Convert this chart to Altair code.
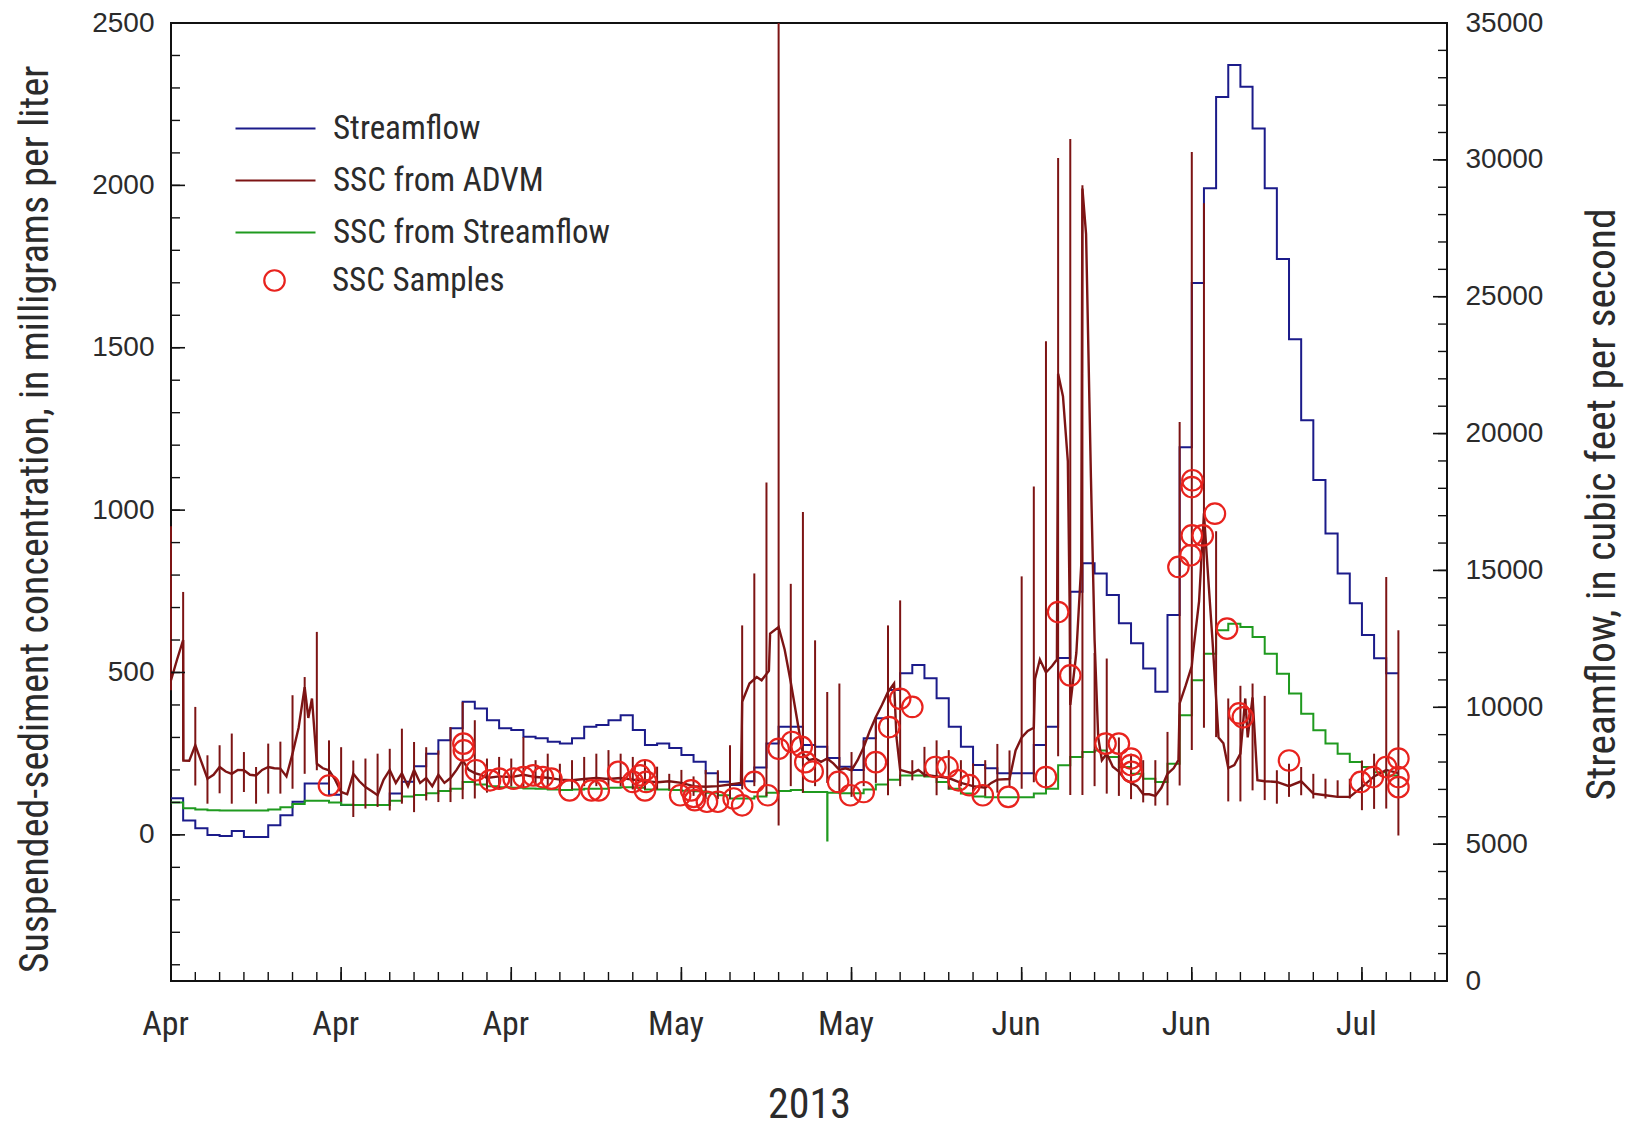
import altair as alt
import pandas as pd

START = pd.Timestamp("2013-04-01")

# Daily mean streamflow, cubic feet per second, starting 1 April 2013
flow_cfs = [
    6680, 5860, 5580, 5330, 5300, 5480, 5260, 5260, 5690, 6060,
    6550, 7220, 7220, 6800, 6430, 6430, 6430, 6430, 6850, 7280,
    7850, 8300, 8800, 9230, 10200, 9960, 9530, 9230, 9170, 8925,
    8865, 8740, 8680, 8865, 9290, 9350, 9530, 9710, 9170, 8620,
    8680, 8510, 8255, 8010, 7590, 7280, 7160, 7300, 7800, 8680,
    9290, 9290, 8620, 8560, 8150, 7830, 7710, 8865, 9600, 10630,
    11240, 11545, 11060, 10330, 9290, 8560, 7890, 7770, 7590, 7590,
    7590, 8620, 9290, 11800, 14220, 15260, 14890, 14100, 13070, 12340,
    11420, 10570, 13370, 19500, 25500, 28960, 32300, 33470, 32670, 31150,
    28960, 26380, 23450, 20490, 18300, 16350, 14890, 13800, 12640, 11790,
    11240,
]

# Daily SSC computed from streamflow, mg/L
ssc_from_flow = [
    100, 82, 78, 76, 75, 75, 75, 75, 78, 85,
    95, 105, 105, 100, 93, 92, 92, 92, 105, 118,
    123, 128, 135, 142, 163, 155, 150, 147, 145, 143,
    142, 140, 138, 140, 142, 142, 145, 147, 145, 140,
    140, 138, 136, 134, 130, 122, 112, 112, 118, 130,
    135, 138, 132, 132, 130, 128, 128, 140, 155, 170,
    183, 183, 180, 163, 142, 127, 118, 116, 116, 116,
    116, 127, 142, 214, 240, 255, 260, 240, 209, 188,
    173, 163, 219, 368, 476, 558, 630, 650, 640, 609,
    558, 496, 435, 373, 322, 281, 250, 224, 209, 193,
    183,
]
# single low reading in the streamflow-based record
flow_glitch_day = 54.0
flow_glitch_ssc = -17

# SSC from ADVM backscatter (day offset from 1 April, mg/L)
advm_day = [
    0, 0.5, 1.0, 1.02, 1.5, 2, 2.5, 3, 3.5, 4, 4.5, 5, 5.5, 6, 6.5, 7, 7.5, 8, 8.5, 9,
    9.5, 10, 10.5, 11, 11.3, 11.6, 12, 12.5, 13, 13.5, 14, 14.5, 15, 15.5, 16, 16.5, 17,
    17.5, 18, 18.5, 19, 19.5, 20, 20.5, 21, 21.5, 22, 22.5, 23, 23.5, 24, 24.5, 25, 25.5,
    26, 27, 28, 29, 30, 31, 32, 33, 34, 35, 36, 37, 38, 39, 40, 41, 42, 43, 44, 45, 46,
    46.9, 47, 47.6, 48.2, 48.6, 49.2, 49.3, 50, 50.5, 51, 51.5, 52, 52.5, 53, 53.5, 54,
    54.5, 55, 55.5, 56, 56.5, 57, 57.5, 58, 58.5, 59, 59.5, 59.7, 60, 60.5, 61, 61.5, 62,
    63, 64, 65, 66, 67, 67.5, 68, 69, 69.5, 70, 70.5, 71, 71.1, 71.5, 72, 72.5, 72.9, 73,
    73.4, 73.8, 73.95, 74, 74.5, 74.9, 75, 75.3, 75.7, 76, 76.3, 76.6, 77, 77.5, 78, 78.5,
    79, 79.5, 80, 80.5, 81, 81.5, 82, 82.5, 82.9, 83, 83.5, 84, 84.1, 84.6, 85, 85.3, 85.7,
    86, 86.2, 86.6, 87, 87.5, 88, 88.4, 88.6, 89, 89.4, 90, 91, 92, 93, 94, 95, 96, 97,
    98, 99, 100, 101,
]
advm_ssc = [
    476, 540, 600, 229, 228, 276, 225, 173, 185, 209, 195, 188, 200, 199, 185, 183, 200, 209, 205, 204,
    180, 250, 330, 455, 360, 420, 219, 205, 199, 170, 132, 125, 188, 165, 147, 135, 122,
    170, 200, 160, 190, 150, 200, 160, 175, 150, 185, 160, 175, 200, 230, 200, 190, 185,
    175, 180, 178, 185, 178, 176, 170, 168, 172, 175, 172, 175, 170, 165, 162, 165, 160, 150, 148, 150, 155,
    160, 410, 466, 486, 476, 505, 620, 640, 570, 470, 360, 250, 230, 235, 225, 235,
    220, 200, 205, 199, 230, 270, 320, 363, 400, 440, 466, 300, 200, 195, 190, 200, 185,
    180, 175, 160, 150, 145, 160, 170, 172, 260, 300, 320, 330, 480, 540, 500, 520, 540, 1420,
    1350, 1150, 700, 400, 560, 830, 1990, 1850, 1100, 600, 300, 230, 250, 210, 195, 170,
    160, 150, 125, 125, 120, 145, 188, 205, 230, 405, 460, 520, 560, 720, 990, 820, 600,
    420, 300, 282, 206, 215, 250, 420, 300, 423, 168, 165, 163, 150, 165, 127, 122, 117, 117,
    147, 180, 200, 190,
]

# Daily range of ADVM SSC (mg/L), one bar per day from 1 April
advm_low = [
    445, 229, 152, 96, 128, 96, 132, 96, 127, 127,
    142, 188, 199, 138, 102, 55, 81, 86, 75, 96,
    70, 106, 101, 101, 110, 112, 130, 140, 150, 145,
    150, 150, 130, 140, 150, 150, 150, 150, 140, 140,
    140, 140, 130, 120, 110, 110, 110, 140, 150, 120,
    29, 150, 130, 150, 160, 130, 117, 150, 160, 122,
    150, 168, 178, 122, 140, 150, 130, 120, 130, 150,
    142, 162, 142, 242, 123, 123, 150, 127, 120, 110,
    100, 90, 91, 152, 261, 330, 301, 103, 103, 137,
    107, 96, 117, 122, 112, 112, 115, 112, 76, 80,
    81, -2,
]
advm_high = [
    950, 748, 394, 245, 276, 312, 255, 209, 281, 287,
    430, 486, 625, 291, 270, 229, 235, 250, 265, 327,
    286, 270, 260, 332, 409, 353, 235, 240, 235, 301,
    230, 250, 219, 230, 240, 250, 261, 250, 240, 230,
    210, 188, 200, 180, 200, 199, 276, 645, 805, 1085,
    2500, 773, 994, 599, 440, 466, 255, 291, 363, 645,
    722, 230, 271, 291, 261, 230, 220, 230, 280, 260,
    796, 1073, 1520, 2084, 2143, 2000, 560, 543, 300, 250,
    230, 230, 317, 1271, 2103, 1945, 935, 420, 459, 466,
    428, 199, 219, 209, 188, 173, 168, 173, 229, 250,
    794, 630,
]

# Measured SSC samples (day offset from 1 April, mg/L)
sample_day = [
    13.0, 24.06, 24.1, 25.1, 26.25, 27.0, 28.2, 29.0, 29.8, 30.6,
    31.3, 32.8, 34.6, 35.2, 36.8, 38.0, 38.6, 39.0, 39.1, 39.0,
    41.9, 42.8, 43.0, 43.1, 44.1, 45.0, 46.3, 47.0, 48.0, 49.1,
    50.0, 51.1, 51.9, 52.2, 52.8, 54.9, 55.9, 57.0, 58.0, 59.1,
    60.0, 61.0, 62.9, 63.9, 64.8, 65.7, 66.8, 68.9, 72.0, 73.0,
    74.0, 76.9, 78.0, 79.0, 79.0, 79.05, 82.9, 83.9, 84.0, 84.0,
    84.05, 84.9, 85.9, 86.9, 87.9, 88.2, 92.0, 97.9, 98.9, 100.0,
    101.0, 101.0, 101.0,
]
sample_ssc = [
    152, 281, 260, 199, 168, 173, 173, 178, 183, 178,
    173, 137, 137, 137, 194, 163, 183, 199, 163, 137,
    122, 137, 117, 107, 102, 102, 112, 91, 163, 122,
    265, 286, 271, 224, 195, 163, 122, 132, 224, 332,
    419, 394, 209, 209, 168, 153, 122, 117, 178, 686,
    491, 281, 281, 235, 215, 194, 825, 861, 922, 1071,
    1092, 922, 989, 635, 374, 362, 229, 163, 178, 209,
    235, 178, 147,
]

# Axis tick positions
x_label_days = [0, 14, 28, 42, 56, 70, 84, 98]
x_minor_days = list(range(0, 105, 2))
ssc_major = [0, 500, 1000, 1500, 2000]
ssc_minor = list(range(-400, 2500, 100))
cfs_major = [0, 5000, 10000, 15000, 20000, 25000, 30000]
cfs_minor = list(range(1000, 35000, 1000))

NAVY = "#1b1b8a"
MAROON = "#7d1414"
GREEN = "#1f9a1f"
RED = "#e8231e"
INK = "#2b2b2b"
NARROW = "Roboto Condensed, Liberation Sans Narrow, DejaVu Sans Condensed, Arial Narrow, Roboto, sans-serif"
REGULAR = "Liberation Sans, Arial, sans-serif"

W, H = 1276, 958


def stamp(day):
    return (START + pd.to_timedelta(day, unit="D")).strftime("%Y-%m-%dT%H:%M:%S")


def dt(day):
    t = START + pd.to_timedelta(day, unit="D")
    return alt.DateTime(year=t.year, month=t.month, date=t.day)


def step_frame(values, series, extra=None):
    days = list(range(len(values))) + [len(values)]
    vals = list(values) + [values[-1]]
    rows = [{"date": stamp(d), "v": v, "series": series} for d, v in zip(days, vals)]
    if extra is not None:
        d0, v0 = extra
        back = values[int(d0)]
        rows += [{"date": stamp(d0), "v": v0, "series": series},
                 {"date": stamp(d0 + 0.02), "v": back, "series": series}]
        rows.sort(key=lambda r: r["date"])
    return pd.DataFrame(rows)


flow_df = step_frame(flow_cfs, "Streamflow")
green_df = step_frame(ssc_from_flow, "SSC from Streamflow", (flow_glitch_day, flow_glitch_ssc))
advm_df = pd.DataFrame({"date": [stamp(d) for d in advm_day], "v": advm_ssc,
                        "series": "SSC from ADVM"})
bars_df = pd.DataFrame({"date": [stamp(d) for d in range(len(advm_low))],
                        "lo": advm_low, "hi": advm_high, "series": "SSC from ADVM"})
samples_df = pd.DataFrame({"date": [stamp(d) for d in sample_day], "v": sample_ssc,
                           "kind": "SSC Samples"})

xs = alt.Scale(domain=[dt(0), dt(105)])
yl = alt.Scale(domain=[-450, 2500], nice=False, zero=False)
yr = alt.Scale(domain=[0, 35000], nice=False, zero=False)
cs = alt.Scale(domain=["Streamflow", "SSC from ADVM", "SSC from Streamflow"],
               range=[NAVY, MAROON, GREEN])

line_legend = alt.Legend(
    title=None, orient="none", legendX=88, legendY=89, padding=0,
    symbolType="M-8,0H8", symbolSize=100, symbolStrokeWidth=2,
    labelFont=NARROW, labelFontSize=33, labelColor=INK, labelOffset=41,
    labelLimit=700, rowPadding=18,
)
sample_legend = alt.Legend(
    title=None, orient="none", legendX=87, legendY=241, padding=0,
    symbolSize=420, symbolStrokeWidth=2.2, symbolStrokeColor=RED,
    symbolFillColor="transparent",
    labelFont=NARROW, labelFontSize=33, labelColor=INK, labelOffset=41, labelLimit=700,
)

x_axis = alt.Axis(
    values=[dt(d) for d in x_label_days], format="%b", ticks=False, domain=False,
    grid=False, labelFlush=False, labelFont=NARROW, labelFontSize=34, labelColor=INK,
    labelPadding=26, labelOffset=-6,
    title="2013", titleFont=NARROW, titleFontSize=42, titleFontWeight="normal",
    titleColor=INK, titleY=123, titleBaseline="middle",
)
left_axis = alt.Axis(
    values=ssc_major + [2500], format="d", ticks=False, domain=False, grid=False,
    labelFlush=False, labelFont=REGULAR, labelFontSize=28, labelColor=INK, labelPadding=17,
    title="Suspended-sediment concentration, in milligrams per liter",
    titleFont=NARROW, titleFontSize=40, titleFontWeight="normal", titleColor=INK,
    titleAngle=270, titleX=-136, titleY=496, titleAlign="center", titleBaseline="middle",
    titleLimit=1500,
)
right_axis = alt.Axis(
    orient="right", values=cfs_major + [35000], format="d", ticks=False, domain=False,
    grid=False, labelFlush=False, labelFont=REGULAR, labelFontSize=28, labelColor=INK,
    labelPadding=18,
    title="Streamflow, in cubic feet per second",
    titleFont=NARROW, titleFontSize=41.5, titleFontWeight="normal", titleColor=INK,
    titleAngle=270, titleX=155, titleY=481, titleAlign="center", titleBaseline="middle",
    titleLimit=1500,
)

X = alt.X("date:T", scale=xs, axis=x_axis)

# ---- right-hand (streamflow) group
flow_line = alt.Chart(flow_df).mark_line(interpolate="step-after", strokeWidth=2).encode(
    x=X,
    y=alt.Y("v:Q", scale=yr, axis=right_axis),
    color=alt.Color("series:N", scale=cs, legend=line_legend),
)
cfs_major_ticks = alt.Chart(pd.DataFrame({"v": cfs_major})).mark_rule(
    color="#111", strokeWidth=1.6).encode(
    y=alt.Y("v:Q", scale=yr, axis=right_axis), x=alt.value(W), x2=alt.value(W - 14))
cfs_minor_ticks = alt.Chart(pd.DataFrame({"v": cfs_minor})).mark_rule(
    color="#111", strokeWidth=1.4).encode(
    y=alt.Y("v:Q", scale=yr, axis=right_axis), x=alt.value(W), x2=alt.value(W - 9))
right = alt.layer(flow_line, cfs_major_ticks, cfs_minor_ticks)

# ---- left-hand (SSC) group
YL = alt.Y("v:Q", scale=yl, axis=left_axis)
green_line = alt.Chart(green_df).mark_line(interpolate="step-after", strokeWidth=2).encode(
    x=X, y=YL,
    color=alt.Color("series:N", scale=cs, legend=line_legend),
)
advm_bars = alt.Chart(bars_df).mark_rule(strokeWidth=2).encode(
    x=X,
    y=alt.Y("lo:Q", scale=yl, axis=left_axis),
    y2="hi:Q",
    color=alt.Color("series:N", scale=cs, legend=line_legend),
)
advm_line = alt.Chart(advm_df).mark_line(strokeWidth=2.4).encode(
    x=X, y=YL,
    color=alt.Color("series:N", scale=cs, legend=line_legend),
)
samples = alt.Chart(samples_df).mark_point(
    filled=False, size=420, strokeWidth=2.2, color=RED, opacity=1).encode(
    x=X, y=YL,
    shape=alt.Shape("kind:N", scale=alt.Scale(domain=["SSC Samples"], range=["circle"]),
                    legend=sample_legend),
)
x_major_ticks = alt.Chart(pd.DataFrame({"date": [stamp(d) for d in x_label_days]})).mark_rule(
    color="#111", strokeWidth=1.6).encode(x=X, y=alt.value(H), y2=alt.value(H - 14))
x_minor_ticks = alt.Chart(pd.DataFrame({"date": [stamp(d) for d in x_minor_days]})).mark_rule(
    color="#111", strokeWidth=1.4).encode(x=X, y=alt.value(H), y2=alt.value(H - 9))
ssc_major_ticks = alt.Chart(pd.DataFrame({"v": ssc_major})).mark_rule(
    color="#111", strokeWidth=1.6).encode(y=YL, x=alt.value(0), x2=alt.value(14))
ssc_minor_ticks = alt.Chart(pd.DataFrame({"v": ssc_minor})).mark_rule(
    color="#111", strokeWidth=1.4).encode(y=YL, x=alt.value(0), x2=alt.value(9))
left = alt.layer(green_line, advm_bars, advm_line, samples,
                 x_major_ticks, x_minor_ticks, ssc_major_ticks, ssc_minor_ticks)

chart = alt.layer(right, left).resolve_scale(y="independent").properties(
    width=W, height=H,
    padding={"left": 171, "top": 23, "right": 182, "bottom": 147},
    autosize=alt.AutoSizeParams(type="none"),
    background="white",
).configure_view(stroke="#111", strokeWidth=2)

chart.save("out.html", embed_options={"renderer": "svg", "actions": False})
